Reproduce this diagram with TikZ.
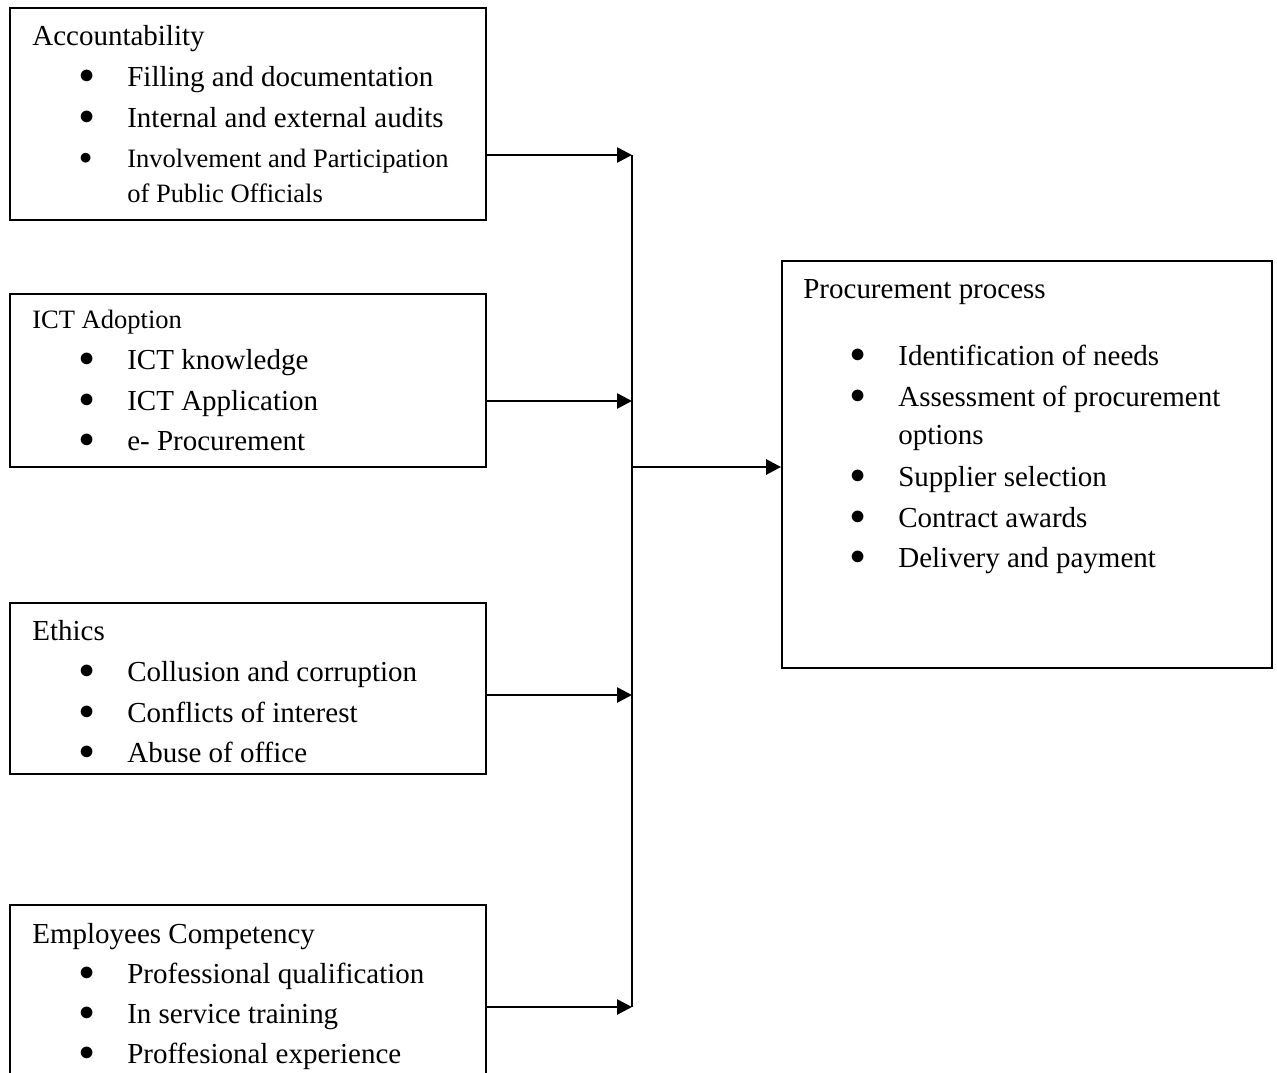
\documentclass[tikz,border=0pt]{standalone}
\usepackage{fontspec}
\setmainfont{Liberation Serif}
\usetikzlibrary{arrows.meta}

\tikzset{
  factorbox/.style={draw, line width=1.1pt, minimum width=9.52cm, inner sep=0pt},
  heading/.style={anchor=base west, inner sep=0pt, font=\fontsize{16.5pt}{19pt}\selectfont},
  entry/.style={anchor=base west, inner sep=0pt, font=\fontsize{16.5pt}{19pt}\selectfont},
  smalltext/.style={font=\fontsize{15.1pt}{18pt}\selectfont},
  link/.style={-{Triangle[length=0.3cm,width=0.3cm]}, line width=1.5pt}
}
\newcommand{\bull}{\makebox[0.96cm][l]{\raisebox{1.3pt}{$\bullet$}}}

\begin{document}
\begin{tikzpicture}[x=0.02cm, y=-0.02cm]
    \useasboundingbox (0,0) rectangle (1277,1072);
    \clip (0,0) rectangle (1277,1072);

    % Factor boxes on the left
    \node[factorbox, minimum height=4.24cm] (acc) at (248,114) {};
    \node[factorbox, minimum height=3.46cm] (ict) at (248,380.5) {};
    \node[factorbox, minimum height=3.42cm] (eth) at (248,688.5) {};
    \node[factorbox, minimum height=4.0cm] (emp) at (248,1005) {};

    % Process box on the right
    \node[factorbox, minimum width=9.80cm, minimum height=8.14cm] (proc) at (1027,464.5) {};

    % Accountability
    \node[heading] (acc-t) at (32,45) {Accountability};
    \foreach \y/\txt [count=\i] in {86/Filling and documentation, 127/Internal and external audits} {
      \node[entry] (acc-\i) at (79,\y) {\bull\txt};
    }
    \node[entry, smalltext] (acc-3) at (79,167) {\bull Involvement and Participation};
    \node[entry, smalltext] (acc-4) at (127,202) {of Public Officials};

    % ICT Adoption
    \node[heading, smalltext] (ict-t) at (32,328) {ICT Adoption};
    \foreach \y/\txt [count=\i] in {369/ICT knowledge, 410/ICT Application, 450/e- Procurement} {
      \node[entry] (ict-\i) at (79,\y) {\bull\txt};
    }

    % Ethics
    \node[heading] (eth-t) at (32,640) {Ethics};
    \foreach \y/\txt [count=\i] in {681/Collusion and corruption, 722/Conflicts of interest, 762/Abuse of office} {
      \node[entry] (eth-\i) at (79,\y) {\bull\txt};
    }

    % Employees Competency
    \node[heading] (emp-t) at (32,943) {Employees Competency};
    \foreach \y/\txt [count=\i] in {983/Professional qualification, 1023/In service training, 1063/Proffesional experience} {
      \node[entry] (emp-\i) at (79,\y) {\bull\txt};
    }

    % Procurement process
    \node[heading] (proc-t) at (803,298) {Procurement process};
    \foreach \y/\txt [count=\i] in {365/Identification of needs, 406/Assessment of procurement} {
      \node[entry] (proc-\i) at (850,\y) {\bull\txt};
    }
    \node[entry] (proc-3) at (898,444) {options};
    \foreach \y/\txt [count=\i from 4] in {486/Supplier selection, 527/Contract awards, 567/Delivery and payment} {
      \node[entry] (proc-\i) at (850,\y) {\bull\txt};
    }

    % Joints on the collecting line
    \coordinate (j1) at (632,155);
    \coordinate (j2) at (632,401);
    \coordinate (j3) at (632,695);
    \coordinate (j4) at (632,1007);
    \coordinate (jout) at (632,467);

    \draw[line width=1.1pt] (j1) -- (j4);
    \foreach \b/\j in {acc/j1, ict/j2, eth/j3, emp/j4} {
      \draw[link] (\b.east |- \j) -- (\j);
    }
    \draw[link] (jout) -- (proc.west |- jout);
\end{tikzpicture}
\end{document}
